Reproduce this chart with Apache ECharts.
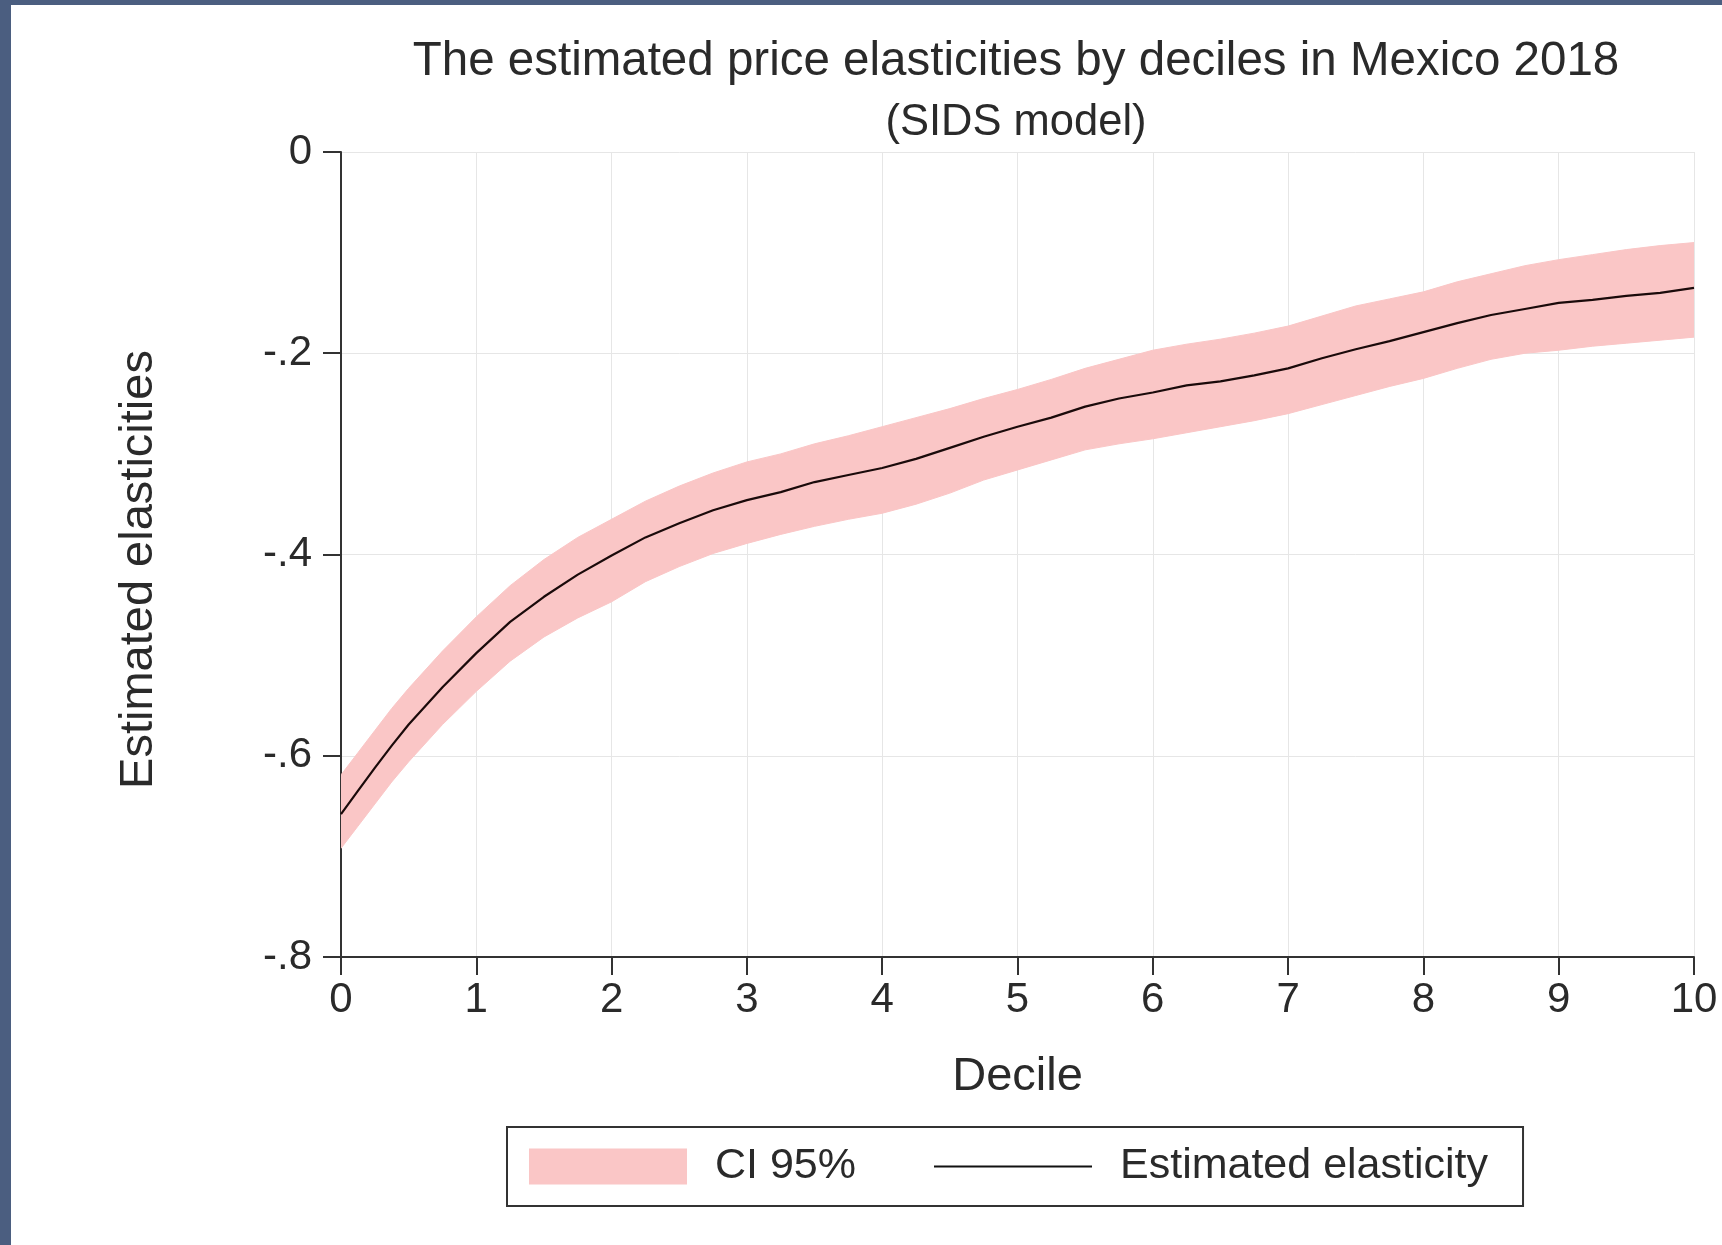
<!DOCTYPE html>
<html>
<head>
<meta charset="utf-8">
<script src="https://cdn.jsdelivr.net/npm/echarts@6/dist/echarts.min.js"></script>
<style>
  html, body { margin: 0; padding: 0; background: #ffffff; }
  #chart { position: absolute; left: 0; top: 0; width: 1722px; height: 1245px; }
  .frame { position: absolute; background: #4b5e80; }
</style>
</head>
<body>
<div id="chart"></div>
<div class="frame" style="left:0;top:0;width:11px;height:1245px;"></div>
<div class="frame" style="left:0;top:0;width:1722px;height:5px;"></div>
<script>
// ---- data ----
const deciles = [0, 0.125, 0.25, 0.375, 0.5, 0.75, 1, 1.25, 1.5, 1.75, 2, 2.25, 2.5, 2.75, 3, 3.25, 3.5, 3.75,
  4, 4.25, 4.5, 4.75, 5, 5.25, 5.5, 5.75, 6, 6.25, 6.5, 6.75, 7, 7.25, 7.5, 7.75,
  8, 8.25, 8.5, 8.75, 9, 9.25, 9.5, 9.75, 10];
const elasticity = [-0.658, -0.635, -0.612, -0.590, -0.569, -0.532, -0.498, -0.467, -0.442, -0.420, -0.401, -0.383,
  -0.369, -0.356, -0.346, -0.338, -0.328, -0.321, -0.314, -0.305, -0.294, -0.283,
  -0.273, -0.264, -0.253, -0.245, -0.239, -0.232, -0.228, -0.222, -0.215, -0.205,
  -0.196, -0.188, -0.179, -0.170, -0.162, -0.156, -0.150, -0.147, -0.143, -0.140, -0.135];
const ciUpper = [-0.619, -0.597, -0.575, -0.553, -0.533, -0.496, -0.462, -0.431, -0.405, -0.383, -0.365, -0.347,
  -0.332, -0.319, -0.308, -0.300, -0.290, -0.282, -0.273, -0.264, -0.255, -0.245,
  -0.236, -0.226, -0.215, -0.206, -0.197, -0.191, -0.186, -0.180, -0.173, -0.163,
  -0.153, -0.146, -0.139, -0.129, -0.121, -0.113, -0.107, -0.102, -0.097, -0.093, -0.090];
const ciLower = [-0.692, -0.670, -0.648, -0.626, -0.606, -0.569, -0.536, -0.506, -0.482, -0.463, -0.447, -0.427,
  -0.412, -0.399, -0.389, -0.380, -0.372, -0.365, -0.359, -0.350, -0.339, -0.326,
  -0.316, -0.306, -0.296, -0.290, -0.285, -0.279, -0.273, -0.267, -0.260, -0.251,
  -0.242, -0.233, -0.225, -0.215, -0.206, -0.200, -0.197, -0.193, -0.190, -0.187, -0.184];
const xTicks = [0, 1, 2, 3, 4, 5, 6, 7, 8, 9, 10];
const yTicks = [0, -0.2, -0.4, -0.6, -0.8];
const titleText = 'The estimated price elasticities by deciles in Mexico 2018';
const subtitleText = '(SIDS model)';
const xName = 'Decile';
const yName = 'Estimated elasticities';
const ciName = 'CI 95%';
const lineName = 'Estimated elasticity';

// ---- styles ----
const FONT = 'Liberation Sans, Arial, sans-serif';
const TXT = '#2a2a2a';
const BAND = '#fac6c6';
const AXIS = '#333333';

const bandData = deciles.map((d, i) => [d, ciLower[i], ciUpper[i]]);
const lineData = deciles.map((d, i) => [d, elasticity[i]]);

function renderBand(params, api) {
  if (params.dataIndexInside !== 0) return null;
  const n = params.dataInsideLength;
  const upperPts = [];
  const lowerPts = [];
  for (let k = 0; k < n; k++) {
    const x = api.value(0, k);
    upperPts.push(api.coord([x, api.value(2, k)]));
    lowerPts.push(api.coord([x, api.value(1, k)]));
  }
  const pts = upperPts.concat(lowerPts.reverse());
  return {
    type: 'polygon',
    shape: { points: pts },
    style: { fill: BAND, stroke: BAND, lineWidth: 1 }
  };
}

const chart = echarts.init(document.getElementById('chart'), null, { renderer: 'canvas' });
chart.setOption({
  backgroundColor: '#ffffff',
  animation: false,
  textStyle: { fontFamily: FONT },
  title: {
    text: titleText,
    subtext: subtitleText,
    left: 1011,
    top: 33,
    textAlign: 'center',
    itemGap: 15,
    textStyle: { fontFamily: FONT, fontSize: 47.5, fontWeight: 'normal', color: TXT },
    subtextStyle: { fontFamily: FONT, fontSize: 43.5, color: TXT }
  },
  grid: { left: 341, right: 28, top: 152, bottom: 288, containLabel: false },
  xAxis: {
    type: 'value',
    min: xTicks[0],
    max: xTicks[xTicks.length - 1],
    interval: 1,
    name: xName,
    nameLocation: 'middle',
    nameGap: 97,
    nameTextStyle: { fontFamily: FONT, fontSize: 47, color: TXT },
    axisLine: { show: true, onZero: false, lineStyle: { color: AXIS, width: 2 } },
    axisTick: { show: true, length: 18, lineStyle: { color: AXIS, width: 2 } },
    axisLabel: { margin: 22, fontFamily: FONT, fontSize: 42, color: TXT },
    splitLine: { show: true, lineStyle: { color: '#e6e6e6', width: 1 } }
  },
  yAxis: {
    type: 'value',
    min: yTicks[yTicks.length - 1],
    max: yTicks[0],
    interval: 0.2,
    name: yName,
    nameLocation: 'middle',
    nameGap: 178,
    nameRotate: 90,
    nameTextStyle: { fontFamily: FONT, fontSize: 47, color: TXT, padding: [0, 30, 0, 0] },
    axisLine: { show: true, onZero: false, lineStyle: { color: AXIS, width: 2 } },
    axisTick: { show: true, length: 18, lineStyle: { color: AXIS, width: 2 } },
    axisLabel: {
      margin: 29, fontFamily: FONT, fontSize: 42, color: TXT,
      formatter: v => (Math.abs(v) < 1e-9 ? '0' : v.toFixed(1).replace('0.', '.'))
    },
    splitLine: { show: true, lineStyle: { color: '#e6e6e6', width: 1 } }
  },
  legend: {
    show: true,
    left: 507,
    top: 1127,
    orient: 'horizontal',
    padding: [18, 35, 18, 22],
    borderColor: '#333333',
    borderWidth: 2,
    itemWidth: 158,
    itemHeight: 36,
    itemGap: 78,
    symbolKeepAspect: true,
    selectedMode: false,
    textStyle: { fontFamily: FONT, fontSize: 43, color: TXT, padding: [0, 0, 0, 23] },
    data: [
      { name: ciName, icon: 'rect', itemStyle: { color: BAND, borderWidth: 0 } },
      { name: lineName, icon: 'path://M0,0H100V1.4H0Z', itemStyle: { color: '#111111', borderWidth: 0 } }
    ]
  },
  series: [
    {
      name: ciName,
      type: 'custom',
      data: bandData,
      encode: { x: 0, y: [1, 2] },
      renderItem: renderBand,
      itemStyle: { color: BAND },
      silent: true,
      clip: true,
      z: 2
    },
    {
      name: lineName,
      type: 'line',
      data: lineData,
      showSymbol: false,
      symbol: 'none',
      smooth: false,
      itemStyle: { color: '#111111' },
      lineStyle: { color: '#1a0a0a', width: 2.2 },
      z: 3
    }
  ]
});
</script>
</body>
</html>
